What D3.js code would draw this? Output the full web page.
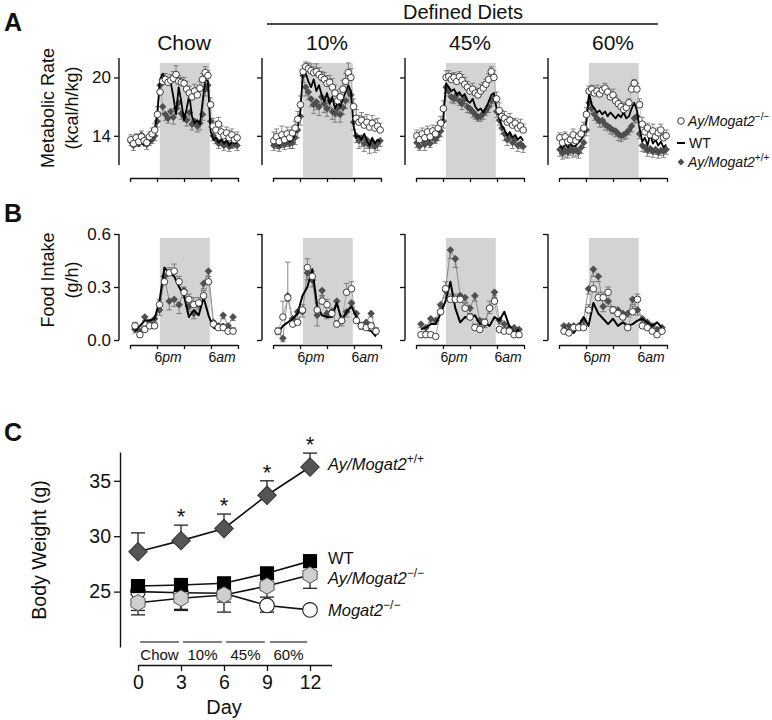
<!DOCTYPE html>
<html>
<head>
<meta charset="utf-8">
<script src="https://cdn.jsdelivr.net/npm/d3@7/dist/d3.min.js"></script>
<style>
html,body{margin:0;padding:0;background:#fff;}
svg text{font-family:"Liberation Sans",Arial,Helvetica,sans-serif;fill:#111;}
</style>
</head>
<body>
<svg id="chart" width="772" height="720"></svg>
<script>
// ---------------- categories ----------------
const diets = ["Chow", "10%", "45%", "60%"];
const groupLabels = ["Ay/Mogat2", "WT", "Ay/Mogat2", "Mogat2"];

// ---------------- Panel A: metabolic rate (kcal/h/kg), one point every 0.64 h ----------------
const mrFirstHour = 0.2, mrStepHours = 0.64;
const mrChowKO = [13.6,13.2,13.8,13.4,13.9,13.5,13.3,13.9,14.2,14.6,16.2, 18.5,19.6,19.8,19.5,19.7,19.9,20.3,19.6,19.5,19.4,18.8,18.4,18.0,18.6,18.2,18.9,19.8,20.5,20.2, 17.2,15.0,14.6,15.2,14.4,14.0,14.3,13.8,14.1,13.6,13.8];
const mrChowKOse = [.5,.6,.4,.5,.6,.5,.4,.5,.6,.7,.8, .8,.7,.6,.5,.6,.7,.9,.6,.5,.6,.8,.7,.6,.7,.8,.7,.6,.6,.5, .7,.8,.9,.7,.6,.5,.6,.7,.6,.5,.6];
const mrChowWT = [13.2,13.0,13.4,13.1,13.3,13.0,13.2,13.5,13.8,14.4,16.5, 19.8,20.4,19.6,19.3,19.5,18.0,16.2,19.0,17.5,15.6,16.8,18.2,16.0,15.3,15.6,15.2,17.5,19.8,19.6, 14.5,13.6,13.8,13.3,13.6,13.2,13.5,13.0,13.4,13.2,13.3];
const mrChowAy = [13.4,13.0,13.6,13.2,14.1,13.5,13.1,13.4,13.6,14.0,15.5, 19.2,17.0,16.2,15.8,16.5,15.9,16.8,17.4,16.3,16.0,15.6,16.4,15.2,15.5,15.0,15.3,16.2,18.8,19.2, 15.5,14.0,13.6,13.2,13.4,13.0,13.3,12.9,13.1,13.2,13.0];
const mrChowAyse = [.4,.5,.4,.3,.5,.4,.5,.4,.4,.5,.6, .6,.7,.6,.5,.6,.7,.5,.6,.6,.5,.6,.7,.6,.5,.6,.7,.6,.7,.6, .6,.5,.4,.5,.4,.5,.4,.5,.4,.4,.5];

const mr10KO = [13.5,13.9,13.4,14.1,13.6,14.2,13.8,14.3,14.8,15.7,17.2, 20.6,21.1,20.9,20.7,20.5,20.6,20.3,20.0,19.8,19.4,19.5,19.0,18.4,17.6,18.0,18.8,19.6,20.5,20.0, 17.0,15.8,15.4,15.6,15.1,15.4,14.9,15.3,14.8,15.0,14.6];
const mr10KOse = [.9,.8,.7,.9,.8,.7,.8,.6,.7,.8,.9, .6,.5,.6,.7,.6,.8,.7,.6,.7,.8,.7,.9,.8,.7,.8,.9,.8,1.0,.9, .8,.9,.7,.8,.9,.8,.7,.8,.9,.8,.7];
const mr10WT = [13.2,13.5,13.0,13.6,13.3,13.7,13.4,13.6,14.2,15.0,16.5, 20.8,20.4,19.6,19.0,19.8,18.6,19.2,18.2,17.5,18.4,17.3,18.0,16.8,17.4,17.0,17.8,18.5,19.2,18.6, 15.0,13.8,14.0,13.6,14.2,13.5,13.0,13.8,13.2,13.6,13.4];
const mr10Ay = [13.0,13.3,12.9,13.4,13.1,13.5,13.2,13.3,13.8,14.6,16.0, 20.2,19.0,18.5,17.8,17.2,17.5,17.0,18.0,17.3,16.8,17.6,16.5,16.3,16.8,16.2,16.9,17.6,18.6,18.2, 15.4,14.0,13.5,13.8,13.2,13.6,13.0,13.4,12.9,13.2,13.5];
const mr10Ayse = [.5,.6,.5,.6,.5,.6,.5,.6,.7,.8,.9, .7,.9,.8,.8,.9,.8,.9,.8,.9,.8,.7,.8,.9,.8,.8,.7,.8,.9,.8, .8,.7,.8,.9,.8,.9,.8,.7,.6,.7,.6];

const mr45KO = [14.0,13.6,14.2,13.8,14.4,13.9,14.5,14.2,14.8,15.3,16.8, 20.0,20.1,19.8,20.0,19.6,20.1,19.7,19.3,19.0,18.6,18.8,18.4,18.2,18.6,18.9,19.3,19.8,20.6,20.0, 17.8,16.6,16.0,15.8,15.4,15.6,15.1,15.3,14.8,15.0,14.6];
const mr45KOse = [.6,.7,.6,.5,.6,.7,.6,.5,.6,.7,.8, .7,.6,.6,.5,.6,.5,.6,.7,.6,.5,.6,.5,.6,.7,.6,.5,.6,.5,.7, .7,.8,.6,.7,.6,.7,.6,.5,.6,.7,.6];
const mr45WT = [13.6,13.3,13.8,13.5,14.0,13.6,14.1,13.9,14.3,14.8,15.8, 19.4,19.0,18.6,18.8,18.2,18.5,18.0,18.3,17.6,17.4,17.8,17.0,16.6,16.8,16.4,16.9,17.5,18.2,18.4, 16.8,15.8,15.0,14.6,14.0,14.4,13.8,14.1,13.6,13.9,13.5];
const mr45Ay = [13.3,12.9,13.5,13.1,13.6,13.2,13.8,13.6,14.0,14.5,15.5, 19.0,18.6,18.0,17.8,18.2,17.6,17.3,17.8,17.0,16.8,16.5,16.2,15.9,16.0,16.3,16.6,17.0,17.6,17.9, 16.5,15.6,14.8,14.2,13.6,13.9,13.3,13.6,13.0,13.2,12.9];
const mr45Ayse = [.5,.4,.5,.6,.5,.4,.5,.4,.5,.6,.7, .6,.5,.6,.5,.6,.5,.6,.5,.6,.5,.6,.5,.4,.5,.6,.5,.6,.5,.6, .6,.5,.6,.7,.6,.5,.6,.5,.6,.5,.6];

const mr60KO = [13.8,13.3,13.9,13.4,13.6,14.1,13.5,13.9,14.2,14.8,16.2, 18.6,18.8,18.4,18.6,18.3,18.7,18.9,18.5,18.0,18.2,17.6,17.3,17.0,16.7,16.9,17.4,18.8,19.4,18.8, 17.2,15.2,14.4,14.8,14.1,14.5,13.9,14.3,14.6,13.8,14.0];
const mr60KOse = [.5,.6,.5,.4,.5,.6,.5,.4,.5,.6,.7, .5,.4,.5,.6,.5,.4,.5,.4,.5,.6,.5,.4,.5,.6,.5,.4,.5,.4,.6, .6,.7,.6,.5,.6,.7,.6,.5,.6,.5,.6];
const mr60WT = [13.0,12.7,13.1,12.8,13.2,12.9,13.0,13.3,13.6,14.0,15.5, 18.4,17.2,16.8,16.4,16.6,16.2,16.5,16.0,16.4,16.1,15.8,16.2,15.9,16.4,15.8,16.0,16.8,17.4,16.6, 14.8,13.4,13.8,13.0,14.2,13.2,13.6,13.0,13.4,12.8,13.1];
const mr60Ay = [12.6,12.2,12.5,12.3,12.7,12.4,12.6,12.3,12.8,13.3,14.6, 17.4,16.8,16.2,15.8,15.5,15.6,15.2,15.0,14.8,14.6,14.5,14.2,14.0,14.1,14.3,14.6,15.0,15.8,16.0, 14.2,13.0,12.8,12.5,12.7,12.4,12.6,12.3,12.5,12.4,12.6];
const mr60Ayse = [.7,.6,.7,.6,.7,.6,.7,.6,.6,.5,.6, .6,.5,.6,.5,.6,.7,.6,.5,.6,.5,.6,.7,.6,.5,.6,.5,.6,.5,.6, .5,.6,.5,.6,.5,.6,.5,.6,.5,.6,.5];

// ---------------- Panel B: food intake (g/h), one point every 1.18 h ----------------
const fiFirstHour = 1.2, fiStepHours = 1.18;
const fiChowKO = [0.08,0.03,0.06,0.08,0.08,0.20,0.33,0.38,0.39,0.33,0.27,0.23,0.20,0.21,0.25,0.33,0.09,0.07,0.07,0.05,0.05];
const fiChowKOse = [.02,.02,.02,.02,.02,.03,.03,.03,.04,.03,.03,.03,.04,.03,.03,.03,.02,.02,.02,.02,.02];
const fiChowWT = [0.05,0.08,0.11,0.11,0.12,0.22,0.41,0.38,0.36,0.30,0.25,0.13,0.17,0.14,0.24,0.14,0.07,0.06,0.09,0.05,0.06];
const fiChowAy = [0.06,0.05,0.13,0.10,0.12,0.17,0.36,0.22,0.23,0.20,0.28,0.19,0.15,0.20,0.32,0.39,0.10,0.08,0.14,0.08,0.13];
const fiChowAyse = [.02,.02,.02,.02,.02,.03,.03,.05,.04,.05,.04,.03,.03,.03,.03,.03,.02,.02,.02,.02,.02];

const fi10KO = [0.05,0.13,0.24,0.09,0.10,0.17,0.41,0.36,0.17,0.22,0.20,0.15,0.09,0.11,0.27,0.29,0.11,0.08,0.07,0.08,0.05];
const fi10KOse = [.02,.09,.20,.03,.02,.03,.05,.03,.04,.03,.03,.03,.02,.03,.05,.04,.02,.02,.02,.02,.02];
const fi10WT = [0.04,0.08,0.10,0.12,0.15,0.25,0.30,0.40,0.19,0.14,0.13,0.13,0.21,0.11,0.16,0.19,0.13,0.07,0.06,0.05,0.02];
const fi10Ay = [0.05,0.01,0.25,0.12,0.16,0.16,0.38,0.34,0.14,0.28,0.15,0.16,0.22,0.11,0.16,0.21,0.15,0.08,0.10,0.15,0.05];
const fi10Ayse = [.02,.02,.03,.03,.03,.03,.04,.04,.06,.03,.03,.03,.03,.03,.03,.03,.03,.02,.02,.02,.02];

const fi45KO = [0.03,0.03,0.03,0.02,0.16,0.29,0.23,0.23,0.23,0.18,0.13,0.07,0.06,0.10,0.18,0.22,0.06,0.05,0.05,0.03,0.03];
const fi45KOse = [.01,.01,.01,.01,.03,.04,.03,.03,.03,.03,.02,.02,.02,.02,.04,.03,.01,.01,.01,.01,.01];
const fi45WT = [0.06,0.07,0.09,0.09,0.15,0.22,0.33,0.18,0.10,0.13,0.12,0.14,0.09,0.10,0.08,0.13,0.11,0.16,0.08,0.04,0.06];
const fi45Ay = [0.09,0.07,0.12,0.11,0.20,0.28,0.51,0.46,0.25,0.24,0.18,0.25,0.11,0.09,0.18,0.27,0.11,0.09,0.07,0.07,0.06];
const fi45Ayse = [.02,.02,.02,.02,.03,.04,.05,.05,.03,.03,.03,.03,.02,.02,.03,.03,.02,.02,.02,.02,.02];

const fi60KO = [0.05,0.04,0.07,0.07,0.07,0.17,0.29,0.24,0.24,0.27,0.17,0.15,0.13,0.07,0.16,0.23,0.08,0.07,0.05,0.03,0.05];
const fi60KOse = [.01,.01,.01,.01,.02,.03,.04,.03,.03,.03,.02,.02,.02,.02,.03,.03,.02,.02,.01,.01,.01];
const fi60WT = [0.07,0.05,0.04,0.08,0.13,0.08,0.21,0.15,0.12,0.09,0.12,0.08,0.10,0.08,0.09,0.11,0.12,0.10,0.08,0.10,0.07];
const fi60Ay = [0.08,0.08,0.08,0.08,0.11,0.29,0.40,0.36,0.19,0.22,0.17,0.17,0.15,0.15,0.23,0.17,0.12,0.10,0.08,0.06,0.07];
const fi60Ayse = [.02,.02,.02,.02,.02,.03,.04,.03,.03,.03,.02,.02,.02,.02,.03,.03,.02,.02,.02,.02,.02];

// ---------------- Panel C: body weight (g) ----------------
const days = [0, 3, 6, 9, 12];
const bwAyWT = [28.6, 29.6, 30.7, 33.7, 36.25];      // Ay/Mogat2+/+
const bwAyWTse = [1.7, 1.4, 1.3, 1.3, 1.25];
const bwWT = [25.5, 25.6, 25.75, 26.65, 27.75];       // WT
const bwAyKO = [24.0, 24.4, 24.7, 25.5, 26.5];        // Ay/Mogat2-/-
const bwAyKOse = [1.1, 1.1, 1.55, 1.0, 1.2];
const bwKO = [25.0, 24.9, 24.85, 23.75, 23.35];       // Mogat2-/-
const bwKOse = [1.7, 1.5, 0.8, 0.6, 0.3];
const significantDays = [3, 6, 9, 12];
const dietPeriods = [[0.15, 2.85], [3.15, 5.85], [6.15, 8.85], [9.2, 11.8]];

// ---------------- assemble tables ----------------
const mrTable = [
  {diet: "Chow", ko: mrChowKO, koSe: mrChowKOse, wt: mrChowWT, ay: mrChowAy, aySe: mrChowAyse},
  {diet: "10%",  ko: mr10KO, koSe: mr10KOse, wt: mr10WT, ay: mr10Ay, aySe: mr10Ayse},
  {diet: "45%",  ko: mr45KO, koSe: mr45KOse, wt: mr45WT, ay: mr45Ay, aySe: mr45Ayse},
  {diet: "60%",  ko: mr60KO, koSe: mr60KOse, wt: mr60WT, ay: mr60Ay, aySe: mr60Ayse}
];
const fiTable = [
  {diet: "Chow", ko: fiChowKO, koSe: fiChowKOse, wt: fiChowWT, ay: fiChowAy, aySe: fiChowAyse},
  {diet: "10%",  ko: fi10KO, koSe: fi10KOse, wt: fi10WT, ay: fi10Ay, aySe: fi10Ayse},
  {diet: "45%",  ko: fi45KO, koSe: fi45KOse, wt: fi45WT, ay: fi45Ay, aySe: fi45Ayse},
  {diet: "60%",  ko: fi60KO, koSe: fi60KOse, wt: fi60WT, ay: fi60Ay, aySe: fi60Ayse}
];

// ---------------- drawing ----------------
const svg = d3.select("#chart");
const band = d3.scaleBand().domain(diets).range([119, 691]);
const xh = d3.scaleLinear().domain([0, 26]).range([11, 119]);
const darkOn = 7.2, darkOff = 19.2;
const xTickHours = [0, 6.5, 13, 19.5, 26];

function styleAxis(g) {
  g.selectAll("path.domain").attr("stroke", "#111").attr("stroke-width", 1.4);
  g.selectAll(".tick line").attr("stroke", "#111").attr("stroke-width", 1.3);
  g.selectAll(".tick text").attr("fill", "#111").attr("font-family", '"Liberation Sans",Arial,sans-serif');
}

const diamondSym = (s) => d3.symbol().type(d3.symbolSquare).size(s)();

function timePanel(row, o) {
  const g = svg.append("g").attr("transform", `translate(${band(row.diet)},0)`);
  const y = o.y;
  const t = i => o.first + i * o.step;
  // dark phase
  g.append("rect").attr("x", xh(darkOn)).attr("width", xh(darkOff) - xh(darkOn))
    .attr("y", o.grayTop).attr("height", o.xAxisY - o.grayTop - 1).attr("fill", "#d3d3d3");
  // y axis
  const ya = g.append("g").call(d3.axisLeft(y).tickValues(o.yTicks).tickSize(5).tickSizeOuter(0).tickPadding(3)
    .tickFormat(row.diet === "Chow" ? o.fmt : ""));
  ya.select("path.domain").attr("d", `M0,${o.yTop}V${o.yBot}`);
  ya.selectAll(".tick text").attr("font-size", o.tickFont);
  styleAxis(ya);
  // x axis
  const xa = g.append("g").attr("transform", `translate(0,${o.xAxisY})`)
    .call(d3.axisBottom(xh).tickValues(xTickHours).tickSize(4).tickSizeOuter(0).tickFormat(""));
  styleAxis(xa);
  if (o.clockLabels) {
    [["6", "pm", xTickHours[1]], ["6", "am", xTickHours[3]]].forEach(([n, s, h]) => {
      const tx = g.append("text").attr("x", xh(h) + 11).attr("y", o.xAxisY + 17)
        .attr("text-anchor", "middle").attr("font-size", 14);
      tx.append("tspan").text(n);
      tx.append("tspan").attr("font-style", "italic").text(s);
    });
  }
  const idx = d3.range(row.ko.length);
  // thin connecting lines
  const thin = (arr) => d3.line().x(i => xh(t(i))).y(i => y(arr[i]))(idx);
  g.append("path").attr("d", thin(row.ay)).attr("fill", "none").attr("stroke", "#777").attr("stroke-width", o.thinW);
  g.append("path").attr("d", thin(row.ko)).attr("fill", "none").attr("stroke", "#999").attr("stroke-width", o.thinW);
  // error bars
  const eb = g.append("g").attr("stroke", "#6a6a6a").attr("stroke-width", 0.8);
  idx.forEach(i => {
    const x = xh(t(i));
    const yk0 = y(row.ko[i]), yk1 = y(row.ko[i] + row.koSe[i]);
    eb.append("line").attr("x1", x).attr("x2", x).attr("y1", yk0).attr("y2", yk1);
    eb.append("line").attr("x1", x - o.cap).attr("x2", x + o.cap).attr("y1", yk1).attr("y2", yk1);
    const ya0 = y(row.ay[i]), ya1 = y(row.ay[i] - row.aySe[i]);
    eb.append("line").attr("x1", x).attr("x2", x).attr("y1", ya0).attr("y2", ya1);
    eb.append("line").attr("x1", x - o.cap).attr("x2", x + o.cap).attr("y1", ya1).attr("y2", ya1);
  });
  // diamonds Ay/Mogat2+/+
  g.append("g").selectAll("path").data(idx).join("path")
    .attr("d", diamondSym(o.dSize))
    .attr("transform", i => `translate(${xh(t(i))},${y(row.ay[i])}) rotate(45)`)
    .attr("fill", "#505050").attr("stroke", "#3a3a3a").attr("stroke-width", 0.5);
  // WT line
  g.append("path").attr("d", d3.line().x(i => xh(t(i))).y(i => y(row.wt[i]))(idx))
    .attr("fill", "none").attr("stroke", "#000").attr("stroke-width", o.wtW).attr("stroke-linejoin", "round");
  // circles Ay/Mogat2-/-
  g.append("g").selectAll("circle").data(idx).join("circle")
    .attr("cx", i => xh(t(i))).attr("cy", i => y(row.ko[i])).attr("r", o.r)
    .attr("fill", "#fff").attr("stroke", "#2a2a2a").attr("stroke-width", 0.9);
  return g;
}

// Panel A
const yMR = d3.scaleLinear().domain([11, 22]).range([165, 58]);
mrTable.forEach(row => {
  const g = timePanel(row, {y: yMR, yTop: 58, yBot: 165, yTicks: [14, 20], fmt: d3.format("d"), tickFont: 17,
    xAxisY: 178, grayTop: 63, first: mrFirstHour, step: mrStepHours, r: 3.3, dSize: 22, cap: 2.5, thinW: 0.5, wtW: 1.8,
    clockLabels: false});
  g.append("text").attr("x", (xh.range()[0] + xh.range()[1]) / 2).attr("y", 50).attr("text-anchor", "middle")
    .attr("font-size", 21).text(row.diet);
});

// Panel B
const yFI = d3.scaleLinear().domain([0, 0.6]).range([340, 234]);
fiTable.forEach(row => {
  timePanel(row, {y: yFI, yTop: 234, yBot: 340, yTicks: [0, 0.3, 0.6], fmt: d3.format(".1f"), tickFont: 17,
    xAxisY: 345, grayTop: 238, first: fiFirstHour, step: fiStepHours, r: 3.3, dSize: 24, cap: 2.8, thinW: 0.8, wtW: 2,
    clockLabels: true});
});

// Header "Defined Diets"
svg.append("text").attr("x", 463).attr("y", 19).attr("text-anchor", "middle").attr("font-size", 20).text("Defined Diets");
svg.append("line").attr("x1", 267).attr("x2", 658).attr("y1", 24).attr("y2", 24).attr("stroke", "#111").attr("stroke-width", 1.3);

// Panel letters
[["A", 31], ["B", 222], ["C", 441]].forEach(([l, yy]) => {
  svg.append("text").attr("x", 4).attr("y", yy).attr("font-size", 25).attr("font-weight", "bold").text(l);
});

// Y labels A, B
function yLabel(lines, cy, size) {
  lines.forEach(([txt, bx]) => {
    svg.append("text").attr("transform", `translate(${bx},${cy}) rotate(-90)`).attr("text-anchor", "middle")
      .attr("font-size", size).text(txt);
  });
}
yLabel([["Metabolic Rate", 54], ["(kcal/h/kg)", 78]], 108, 18);
yLabel([["Food Intake", 54], ["(g/h)", 78]], 280, 18);

// Legend A
function genoText(sel, base, sup, size, supSize, italic) {
  const t = sel.append("text").attr("font-size", size);
  t.append("tspan").attr("font-style", italic ? "italic" : "normal").text(base);
  if (sup) t.append("tspan").attr("font-size", supSize).attr("dy", -size * 0.42).text(sup);
  return t;
}
const leg = svg.append("g");
leg.append("circle").attr("cx", 681).attr("cy", 121).attr("r", 3.3).attr("fill", "#fff").attr("stroke", "#2a2a2a").attr("stroke-width", 0.9);
genoText(leg, groupLabels[0], "\u2212/\u2212", 14, 10, true).attr("x", 688).attr("y", 126);
leg.append("line").attr("x1", 677).attr("x2", 685).attr("y1", 143).attr("y2", 143).attr("stroke", "#000").attr("stroke-width", 2);
genoText(leg, groupLabels[1], null, 14, 10, false).attr("x", 689).attr("y", 148);
leg.append("path").attr("d", diamondSym(24)).attr("transform", "translate(681,162) rotate(45)").attr("fill", "#505050");
genoText(leg, groupLabels[2], "+/+", 14, 10, true).attr("x", 688).attr("y", 167);

// ---------------- Panel C ----------------
const xD = d3.scaleLinear().domain([0, 13.5]).range([138, 331.5]);
const yBW = d3.scaleLinear().domain([20, 37.6]).range([647, 452]);
const gC = svg.append("g");
const yaC = gC.append("g").attr("transform", "translate(120,0)")
  .call(d3.axisLeft(yBW).tickValues([25, 30, 35]).tickSize(6).tickSizeOuter(0).tickPadding(3));
yaC.selectAll(".tick text").attr("font-size", 19.5);
styleAxis(yaC);
const xaC = gC.append("g").attr("transform", "translate(0,665)")
  .call(d3.axisBottom(xD).tickValues(days).tickSize(6).tickSizeOuter(0).tickPadding(4).tickFormat(d3.format("d")));
xaC.selectAll(".tick text").attr("font-size", 19.5);
styleAxis(xaC);
gC.append("text").attr("x", xD(6)).attr("y", 714).attr("text-anchor", "middle").attr("font-size", 20).text("Day");
gC.append("text").attr("transform", "translate(46,550) rotate(-90)").attr("text-anchor", "middle").attr("font-size", 19.5).text("Body Weight (g)");

// diet bars
dietPeriods.forEach((p, i) => {
  gC.append("line").attr("x1", xD(p[0])).attr("x2", xD(p[1])).attr("y1", 642).attr("y2", 642)
    .attr("stroke", "#555").attr("stroke-width", 1.6);
  gC.append("text").attr("x", xD((p[0] + p[1]) / 2)).attr("y", 660).attr("text-anchor", "middle")
    .attr("font-size", 15).text(diets[i]);
});

// error bars
function errBars(vals, se, dir) {
  const g = gC.append("g").attr("stroke", "#222").attr("stroke-width", 1.3);
  days.forEach((d, i) => {
    const y0 = yBW(vals[i]), y1 = yBW(vals[i] + dir * se[i]);
    g.append("line").attr("x1", xD(d)).attr("x2", xD(d)).attr("y1", y0).attr("y2", y1);
    g.append("line").attr("x1", xD(d) - 7).attr("x2", xD(d) + 7).attr("y1", y1).attr("y2", y1);
  });
}
errBars(bwAyWT, bwAyWTse, 1);
errBars(bwAyKO, bwAyKOse, -1);
errBars(bwKO, bwKOse, -1);

function seriesLine(vals) {
  gC.append("path").attr("d", d3.line().x((d, i) => xD(days[i])).y(v => yBW(v))(vals))
    .attr("fill", "none").attr("stroke", "#111").attr("stroke-width", 1.6);
}
[bwAyWT, bwWT, bwAyKO, bwKO].forEach(seriesLine);

const hexPath = r => d3.line()(d3.range(6).map(k => [r * Math.sin(k * Math.PI / 3), -r * Math.cos(k * Math.PI / 3)])) + "Z";
// circles Mogat2-/-
gC.append("g").selectAll("circle").data(bwKO).join("circle")
  .attr("cx", (v, i) => xD(days[i])).attr("cy", v => yBW(v)).attr("r", 7.3)
  .attr("fill", "#fff").attr("stroke", "#222").attr("stroke-width", 1.1);
// squares WT
gC.append("g").selectAll("path").data(bwWT).join("path")
  .attr("d", d3.symbol().type(d3.symbolSquare).size(200)())
  .attr("transform", (v, i) => `translate(${xD(days[i])},${yBW(v)})`).attr("fill", "#000");
// hexagons Ay/Mogat2-/-
gC.append("g").selectAll("path").data(bwAyKO).join("path")
  .attr("d", hexPath(8.2))
  .attr("transform", (v, i) => `translate(${xD(days[i])},${yBW(v)})`)
  .attr("fill", "#cfcfcf").attr("stroke", "#555").attr("stroke-width", 1);
// diamonds Ay/Mogat2+/+
gC.append("g").selectAll("path").data(bwAyWT).join("path")
  .attr("d", diamondSym(170))
  .attr("transform", (v, i) => `translate(${xD(days[i])},${yBW(v)}) rotate(45)`)
  .attr("fill", "#555").attr("stroke", "#333").attr("stroke-width", 1);
// asterisks
significantDays.forEach(d => {
  const i = days.indexOf(d);
  gC.append("text").attr("x", xD(d)).attr("y", yBW(bwAyWT[i] + bwAyWTse[i]) - 1)
    .attr("text-anchor", "middle").attr("font-size", 22).text("*");
});
// end labels
const last = days.length - 1;
const lx = 328;
genoText(gC, groupLabels[2], "+/+", 16.5, 12, true).attr("x", lx).attr("y", yBW(bwAyWT[last]) + 3);
genoText(gC, groupLabels[1], null, 16.5, 12, false).attr("x", lx).attr("y", yBW(bwWT[last]) + 3);
genoText(gC, groupLabels[0], "\u2212/\u2212", 16.5, 12, true).attr("x", lx).attr("y", yBW(bwAyKO[last]) + 9);
genoText(gC, groupLabels[3], "\u2212/\u2212", 16.5, 12, true).attr("x", lx).attr("y", yBW(bwKO[last]) + 6);
</script>
</body>
</html>
